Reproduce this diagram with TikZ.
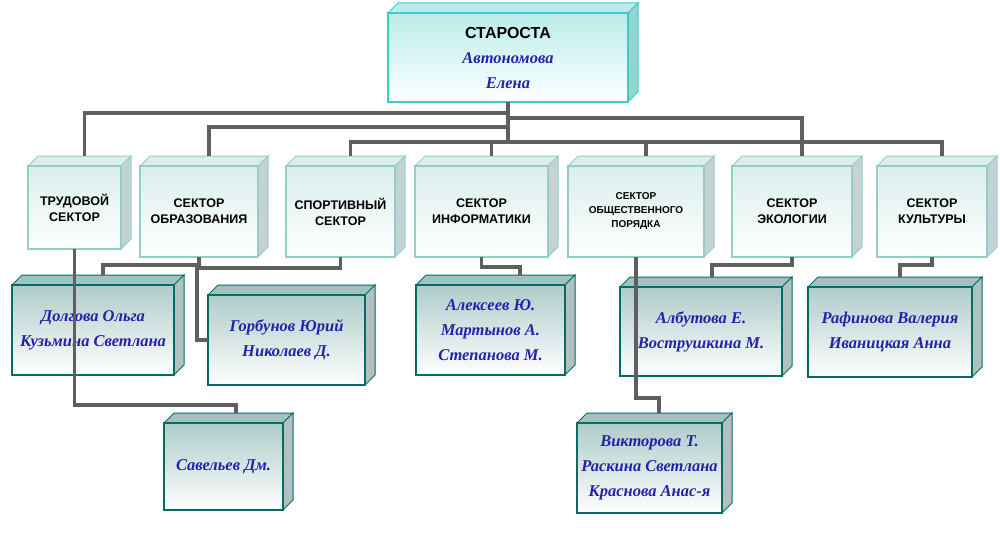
\documentclass[tikz,border=0pt]{standalone}
\usepackage{fontspec}
\setmainfont{Liberation Serif}
\setsansfont{Liberation Sans}
\usetikzlibrary{calc}
\definecolor{conncol}{RGB}{95,95,95}
\definecolor{namecol}{RGB}{35,35,170}
\definecolor{stedge}{RGB}{60,205,200}
\definecolor{sttop}{RGB}{185,236,234}
\definecolor{stside}{RGB}{150,212,208}
\definecolor{seedge}{RGB}{150,205,200}
\definecolor{setop}{RGB}{218,238,236}
\definecolor{seside}{RGB}{195,210,210}
\definecolor{loedge}{RGB}{0,110,100}
\definecolor{lotop}{RGB}{160,195,192}
\definecolor{loside}{RGB}{178,192,192}
\tikzset{
 conn/.style={draw=conncol,line width=3.6pt},
 stfront/.style={draw=stedge,line width=1.5pt,top color=sttop,bottom color=white},
 sttopf/.style={fill=sttop,draw=stedge,line width=1pt},
 stsidef/.style={fill=stside,draw=stedge,line width=1pt},
 sefront/.style={draw=seedge,line width=1.5pt,top color=setop,bottom color=white},
 setopf/.style={fill=setop,draw=seedge,line width=1pt},
 sesidef/.style={fill=seside,draw=seedge,line width=1pt},
 lofront/.style={draw=loedge,line width=1.5pt,top color=lotop!85,bottom color=white},
 lotopf/.style={fill=lotop,draw=loedge,line width=1pt},
 losidef/.style={fill=loside,draw=loedge,line width=1pt},
 sec/.style={font=\sffamily\bfseries\fontsize{12.5}{16}\selectfont,align=center},
 nm/.style={font=\itshape\bfseries\fontsize{16.5}{25}\selectfont,text=namecol,align=center},
}
\newcommand\dd{10}
% #1 name, #2 x1, #3 y1, #4 x2, #5 y2, #6 kind, #7 text style, #8 text
\newcommand\cubebox[8]{%
 \path[#6topf] (#2,#3) -- ++(\dd,-\dd) -- ({#4+\dd},{#3-\dd}) -- (#4,#3) -- cycle;
 \path[#6sidef] (#4,#3) -- ({#4+\dd},{#3-\dd}) -- ({#4+\dd},{#5-\dd}) -- (#4,#5) -- cycle;
 \node[#6front,#7,inner sep=0pt,outer sep=0pt,minimum width={(#4-#2)*1pt},minimum height={(#5-#3)*1pt}] (#1) at ({(#2+#4)/2},{(#3+#5)/2}) {#8};
}
\begin{document}
\begin{tikzpicture}[x=1pt,y=-1pt]
\useasboundingbox[fill=white] (0,0) rectangle (1000,559);
% top
\cubebox{st}{388}{13}{628}{102}{st}{nm}{{\upshape\sffamily\bfseries\color{black}\fontsize{16}{18}\selectfont СТАРОСТА}\\Автономова\\Елена}
% sectors
\cubebox{tr}{28}{166}{121}{249}{se}{sec}{ТРУДОВОЙ\\СЕКТОР}
\cubebox{obr}{140}{166}{258}{257}{se}{sec}{СЕКТОР\\ОБРАЗОВАНИЯ}
\cubebox{sp}{286}{166}{395}{257}{se}{sec}{СПОРТИВНЫЙ\\СЕКТОР}
\cubebox{inf}{415}{166}{548}{257}{se}{sec}{СЕКТОР\\ИНФОРМАТИКИ}
\cubebox{ob}{568}{166}{704}{257}{se}{sec,font=\sffamily\bfseries\fontsize{10}{14}\selectfont}{СЕКТОР\\ОБЩЕСТВЕННОГО\\ПОРЯДКА}
\cubebox{ek}{732}{166}{852}{257}{se}{sec}{СЕКТОР\\ЭКОЛОГИИ}
\cubebox{ku}{877}{166}{987}{257}{se}{sec}{СЕКТОР\\КУЛЬТУРЫ}
% lower
\cubebox{dol}{12}{285}{174}{375}{lo}{nm}{Долгова Ольга\\Кузьмина Светлана}
\cubebox{gor}{208}{295}{365}{385}{lo}{nm}{Горбунов Юрий\\Николаев Д.}
\cubebox{al}{416}{285}{565}{375}{lo}{nm}{Алексеев Ю.\\Мартынов А.\\Степанова М.}
\cubebox{alb}{620}{287}{782}{376}{lo}{nm}{Албутова Е.\\Вострушкина М.}
\cubebox{raf}{808}{287}{972}{377}{lo}{nm}{Рафинова Валерия\\Иваницкая Анна}
\cubebox{vik}{577}{423}{722}{513}{lo}{nm}{Викторова Т.\\Раскина Светлана\\Краснова Анас-я}
\cubebox{sav}{164}{423}{283}{510}{lo}{nm}{Савельев Дм.}
% top connectors
\draw[conn] (st.south) -- ++(0,38);
\draw[conn] ($(tr.north)+(\dd,-\dd)$) |- ($(st.south)+(0,11)$);
\draw[conn] ($(ek.north)+(\dd,-\dd)$) |- ($(st.south)+(0,16)$);
\draw[conn] ($(obr.north)+(\dd,-\dd)$) |- ($(st.south)+(0,25)$);
\draw[conn] ($(sp.north)+(\dd,-\dd)$) -- ++(0,-14) -| ($(ku.north)+(\dd,-\dd)$);
\draw[conn] ($(inf.north)+(\dd,-\dd)$) -- ++(0,-14);
\draw[conn] ($(ob.north)+(\dd,-\dd)$) -- ++(0,-14);
% lower connectors
\draw[conn] (obr.south) -- ++(0,8) -| ($(dol.north west)+(91,-\dd)$);
\draw[conn] (sp.south) -- ++(0,11) -| ($(gor.west)+(-11,0)$) -- (gor.west);
\draw[conn] (inf.south) -- ++(0,10) -| ($(al.north west)+(104,-\dd)$);
\draw[conn] (ek.south) -- ++(0,8) -| ($(alb.north west)+(92,-\dd)$);
\draw[conn] (ku.south) -- ++(0,8) -| ($(raf.north west)+(92,-\dd)$);
\draw[conn] (tr.south) |- ($(sav.north west)+(72,-18)$) -- ++(0,8);
\draw[conn] (ob.south) |- ($(vik.north west)+(82,-25)$) -- ++(0,15);
\end{tikzpicture}
\end{document}
